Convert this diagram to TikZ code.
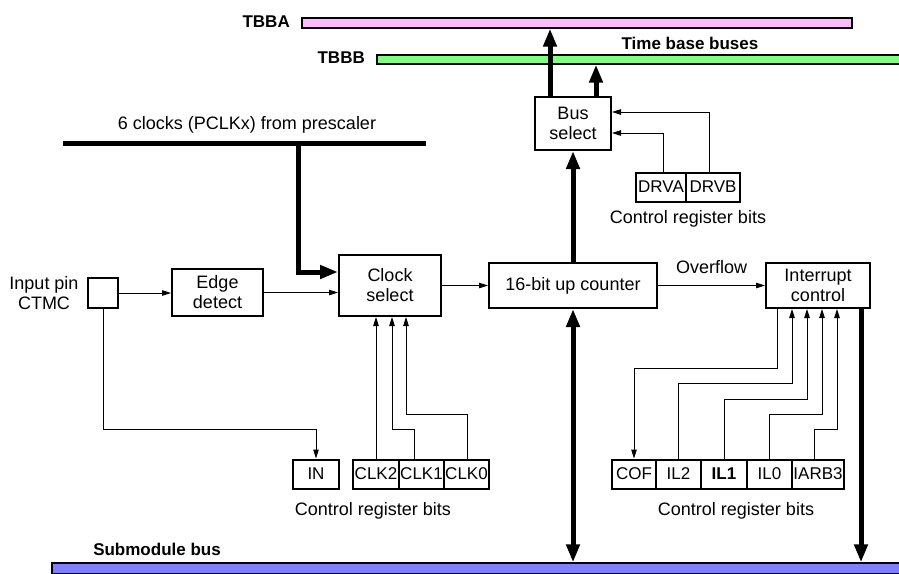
\documentclass[tikz,border=0pt]{standalone}
\usepackage{fontspec}
\setmainfont{Liberation Sans}
\usetikzlibrary{arrows.meta,calc}
\definecolor{tbbapink}{RGB}{255,185,255}
\definecolor{tbbbgreen}{RGB}{128,255,128}
\definecolor{subblue}{RGB}{128,128,255}
\begin{document}
\begin{tikzpicture}[x=1pt,y=-1pt,
  every node/.style={font=\fontsize{18}{20}\selectfont},
  blk/.style={draw,line width=2pt,inner sep=0pt,align=center},
  regbit/.style={draw,line width=2pt,inner sep=0pt,minimum height=29pt,font=\fontsize{17}{19}\selectfont},
  bar/.style={draw,line width=1.3pt,inner sep=0pt},
  thin/.style={line width=1pt,-{Triangle[length=9pt,width=5.5pt]}},
  thinline/.style={line width=1pt},
  thick/.style={line width=5pt,-{Triangle[length=18pt,width=13pt]}},
  thickline/.style={line width=5pt},
  lbl/.style={inner sep=0pt},
  blbl/.style={inner sep=0pt,font=\fontsize{17}{19.5}\selectfont\bfseries}]
\useasboundingbox (0,0) rectangle (899,573);

% buses
\node[bar,fill=tbbapink,minimum width=550pt,minimum height=10pt] (tbba) at (577,23) {};
\node[bar,fill=tbbbgreen,minimum width=530pt,minimum height=9pt] (tbbb) at (642,59.5) {};
\node[bar,fill=subblue,minimum width=850pt,minimum height=11pt] (subbus) at (477,568.5) {};
\node[blbl,anchor=east] (tbbal) at (290,22) {TBBA};
\node[blbl,anchor=east] (tbbbl) at (365,58) {TBBB};
\node[blbl] (tbl) at (690,43) {Time base buses};
\node[blbl] (sbl) at (157,549) {Submodule bus};

% prescaler bar
\node[fill=black,inner sep=0pt,minimum width=363pt,minimum height=5pt] (pres) at (244.5,143) {};
\node[lbl] (presl) at (247,125) {6 clocks (PCLKx) from prescaler};

% blocks
\node[blk,minimum width=30pt,minimum height=30pt] (inpin) at (103,293) {};
\node[lbl,align=center] (inpinl) at (44,293) {Input pin\\CTMC};
\node[blk,minimum width=91pt,minimum height=47pt] (edge) at (217.5,292.5) {Edge\\detect};
\node[blk,minimum width=102pt,minimum height=61pt] (clk) at (390,285.5) {Clock\\select};
\node[blk,minimum width=168pt,minimum height=45pt] (cnt) at (573,285.5) {16-bit up counter};
\node[blk,minimum width=104pt,minimum height=45pt] (intc) at (818,285.5) {Interrupt\\control};
\node[blk,minimum width=76pt,minimum height=53pt] (bussel) at (573,123.5) {Bus\\select};

% register bits
\node[regbit,minimum width=50pt] (drva) at (661,187) {DRVA};
\node[regbit,minimum width=54pt] (drvb) at (713,187) {DRVB};
\node[lbl] (crb1) at (688,219) {Control register bits};

\node[regbit,minimum width=46pt] (inb) at (316,474) {IN};
\node[regbit,minimum width=46pt] (clk2) at (376,474) {CLK2};
\node[regbit,minimum width=45pt] (clk1) at (421.5,474) {CLK1};
\node[regbit,minimum width=45pt] (clk0) at (466.5,474) {CLK0};
\node[lbl] (crb2) at (373,511) {Control register bits};

\node[regbit,minimum width=44pt] (cof) at (634,474) {COF};
\node[regbit,minimum width=45pt] (il2) at (678.5,474) {IL2};
\node[regbit,minimum width=46pt] (il1) at (724,474) {\bfseries IL1};
\node[regbit,minimum width=45pt] (il0) at (769.5,474) {IL0};
\node[regbit,minimum width=52pt] (iarb) at (818,474) {IARB3};
\node[lbl] (crb3) at (736,511) {Control register bits};

% helper x coordinates
\coordinate (xa) at (550,0);
\coordinate (xb) at (596,0);
\coordinate (xp) at (298,0);
\coordinate (xi) at (861,0);

% thick connectors
\draw[thick] (xa |- bussel.north) -- (xa |- tbba.south);
\draw[thick] (xb |- bussel.north) -- (xb |- tbbb.south);
\draw[thick] (cnt.north) -- (bussel.south);
\draw[thickline] (xp |- pres.south) -- (298,272) coordinate (pc);
\draw[thick] ([xshift=-2.5pt]pc) -- (pc -| clk.west);
\draw[line width=5pt,{Triangle[length=18pt,width=13pt]}-{Triangle[length=18pt,width=13pt]}] (cnt.south) -- (cnt.south |- subbus.north);
\draw[thick] (xi |- intc.south) -- (xi |- subbus.north);

% thin connectors
\draw[thin] (inpin.east) -- (edge.west |- inpin.east);
\draw[thin] (edge.east) -- (edge.east -| clk.west);
\draw[thin] (clk.east |- cnt.west) -- (cnt.west);
\draw[thin] (cnt.east) -- node[lbl,above=11pt] (ovf) {Overflow} (intc.west);

\draw[thin] (709,0 |- drvb.north) |- (bussel.east |- 0,112);
\draw[thin] (663,0 |- drva.north) |- (bussel.east |- 0,133);

\draw[thin] (inpin.south) |- (316,429) -- (inb.north);
\draw[thin] (clk2.north) -- (clk2.north |- clk.south);
\draw[thin] (414,0 |- clk1.north) -- (414,429) -- (392,429) -- (392,0 |- clk.south);
\draw[thin] (467,0 |- clk0.north) -- (467,414) -- (406,414) -- (406,0 |- clk.south);

\draw[thin] (777,0 |- intc.south) -- (777,368) -- (634,368) -- (cof.north);
\draw[thin] (678,0 |- il2.north) -- (678,383) -- (792,383) -- (792,0 |- intc.south);
\draw[thin] (724,0 |- il1.north) -- (724,399) -- (807,399) -- (807,0 |- intc.south);
\draw[thin] (769,0 |- il0.north) -- (769,414) -- (822,414) -- (822,0 |- intc.south);
\draw[thin] (814,0 |- iarb.north) -- (814,429) -- (837,429) -- (837,0 |- intc.south);
\end{tikzpicture}
\end{document}
